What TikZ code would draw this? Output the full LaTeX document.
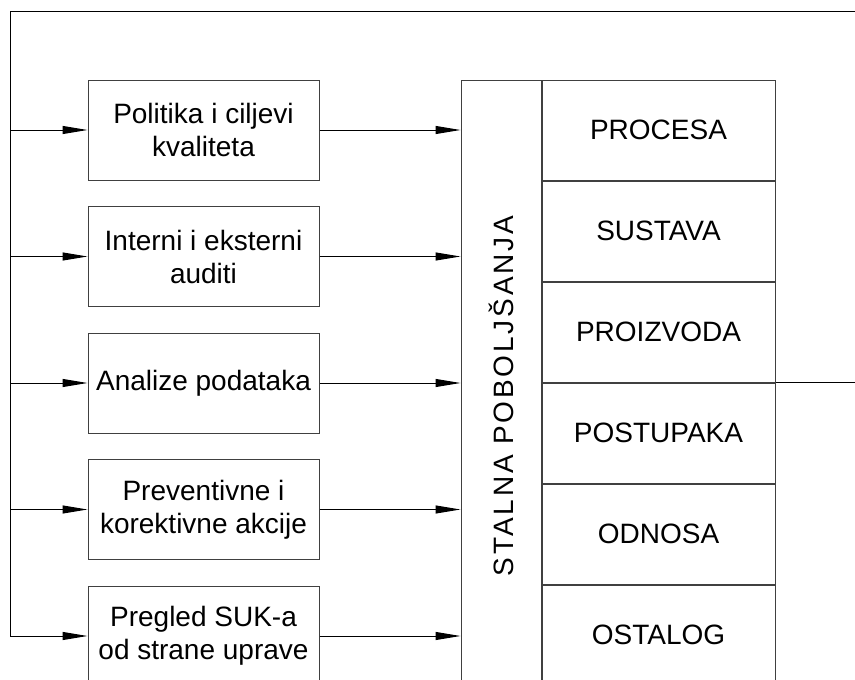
\documentclass[tikz,border=0pt]{standalone}
\usepackage{fontspec}
\setmainfont{Liberation Sans}
\usetikzlibrary{positioning, arrows.meta}

\begin{document}
\begin{tikzpicture}[
  x=1pt, y=-1pt,
  box/.style={draw=black!75, line width=1pt, minimum width=231pt, minimum height=100pt, align=center, font=\fontsize{28}{33}\selectfont, inner sep=0pt},
  cell/.style={draw=black!75, line width=1pt, minimum width=233pt, minimum height=100pt, font=\fontsize{28}{33}\selectfont, inner sep=0pt},
  tall/.style={draw=black!75, line width=1pt, minimum width=80pt, minimum height=606pt, inner sep=0pt},
  vtext/.style={rotate=90, font=\fontsize{28}{33}\selectfont\addfontfeature{LetterSpace=10}},
  arrow/.style={-{Triangle[length=25pt, width=8pt]}, line width=1pt, draw=black},
  line/.style={line width=1pt, draw=black}
]

  \clip (0,0) rectangle (855,680);

  % Input boxes
  \node[box] (pol) at (203.5,130) {Politika i ciljevi\\kvaliteta};
  \node[box, below=25.5pt of pol] (aud) {Interni i eksterni\\auditi};
  \node[box, below=25.5pt of aud] (ana) {Analize podataka};
  \node[box, below=25.5pt of ana] (akc) {Preventivne i\\korektivne akcije};
  \node[box, below=25.5pt of akc] (pre) {Pregled SUK-a\\od strane uprave};

  % Continual improvement
  \node[tall] (stalna) at (501,383) {};
  \node[vtext] (stalnatxt) at (501,396) {STALNA POBOLJŠANJA};

  % Areas
  \node[cell, anchor=north west] (procesa) at (stalna.north east) {PROCESA};
  \node[cell, below=0pt of procesa] (sustava) {SUSTAVA};
  \node[cell, below=0pt of sustava] (proizvoda) {PROIZVODA};
  \node[cell, below=0pt of proizvoda] (postupaka) {POSTUPAKA};
  \node[cell, below=0pt of postupaka] (odnosa) {ODNOSA};
  \node[cell, below=0pt of odnosa] (ostalog) {OSTALOG};

  % Feedback loop
  \coordinate (fbl) at (10,11);
  \coordinate (fbr) at (855,11);
  \coordinate (outr) at (855,383);
  \draw[line] (fbr) -- (fbl) -- (fbl |- pre.west);
  \draw[line] (proizvoda.south east) -- (proizvoda.south east -| outr);

  % Arrows
  \foreach \n in {pol, aud, ana, akc, pre} {
    \draw[arrow] (fbl |- \n.west) -- (\n.west);
    \draw[arrow] (\n.east) -- (\n.east -| stalna.west);
  }

\end{tikzpicture}
\end{document}
